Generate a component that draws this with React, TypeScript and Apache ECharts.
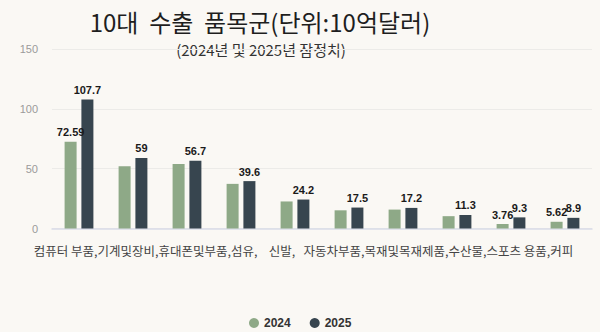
import React, { useEffect, useRef } from 'react';
import * as echarts from 'echarts';

const categories = ['컴퓨터 부품', '기계및장비', '휴대폰및부품', '섬유', '신발', '자동차부품', '목재및목재제품', '수산물', '스포츠 용품', '커피'];
const seriesNames = ['2024', '2025'];
const values2024 = [72.59, 52, 54, 37.3, 22.6, 15.2, 15.8, 10.3, 3.76, 5.62];
const values2025 = [107.7, 59, 56.7, 39.6, 24.2, 17.5, 17.2, 11.3, 9.3, 8.9];
const labeled2024 = [true, false, false, false, false, false, false, false, true, true];
const yMin = 0;
const yMax = 150;
const yInterval = 50;
const categoryLine = '컴퓨터 부품,기계및장비,휴대폰및부품,섬유,    신발,   자동차부품,목재및목재제품,수산물,스포츠 용품,커피';
const titleText = '10대  수출  품목군(단위:10억달러)';
const subtitleText = '(2024년 및 2025년 잠정치)';

const GREEN = '#8ea987';
const DARK = '#37454f';
const KR = '"Noto Sans CJK KR", "Noto Sans", sans-serif';
const NUM = '"Liberation Sans", Arial, sans-serif';

export default function App() {
  const ref = useRef<HTMLDivElement>(null);
  useEffect(() => {
    if (!ref.current) return;
    const chart = echarts.init(ref.current, undefined, { renderer: 'svg' });
    const labelStyle = {
      show: true,
      position: 'top',
      distance: 4,
      color: '#1a1a1a',
      fontFamily: NUM,
      fontWeight: 'bold',
      fontSize: 11,
    };
    chart.setOption({
      animation: false,
      backgroundColor: '#faf8f4',
      grid: { left: 52, right: 8, top: 49, bottom: 103.5, containLabel: false },
      legend: {
        data: seriesNames,
        left: 249,
        top: 317,
        padding: 0,
        icon: 'circle',
        itemWidth: 10,
        itemHeight: 10,
        itemGap: 19,
        textStyle: { color: '#333', fontSize: 12, lineHeight: 12, fontWeight: 'bold', fontFamily: NUM },
      },
      xAxis: {
        type: 'category',
        data: categories,
        axisLine: { lineStyle: { color: '#d9dce8', width: 1.5 } },
        axisTick: { show: false },
        axisLabel: { show: false },
      },
      yAxis: {
        type: 'value',
        min: yMin,
        max: yMax,
        interval: yInterval,
        axisLine: { show: false },
        axisTick: { show: false },
        axisLabel: { color: '#9a9a9a', fontSize: 11, fontFamily: NUM, margin: 14 },
        splitLine: { lineStyle: { color: '#ecebe8', width: 1 } },
      },
      series: [
        {
          name: seriesNames[0],
          type: 'bar',
          barWidth: 12,
          barGap: '40%',
          itemStyle: { color: GREEN },
          data: values2024.map((v, i) => ({
            value: v,
            label: { ...labelStyle, show: labeled2024[i] },
          })),
        },
        {
          name: seriesNames[1],
          type: 'bar',
          barWidth: 12,
          itemStyle: { color: DARK },
          label: labelStyle,
          data: values2025,
        },
      ],
      graphic: [
        {
          type: 'text',
          x: 260,
          y: 21,
          style: {
            text: titleText,
            fill: '#1e1e1e',
            font: `24px ${KR}`,
            textAlign: 'center',
            textVerticalAlign: 'middle',
          },
        },
        {
          type: 'text',
          x: 261,
          y: 49,
          style: {
            text: subtitleText,
            fill: '#333',
            font: `15px ${KR}`,
            textAlign: 'center',
            textVerticalAlign: 'middle',
          },
        },
        {
          type: 'text',
          x: 303.5,
          y: 250,
          style: {
            text: categoryLine,
            fill: '#444',
            font: `12.5px ${KR}`,
            textAlign: 'center',
            textVerticalAlign: 'middle',
          },
        },
      ],
    });
    return () => chart.dispose();
  }, []);
  return <div ref={ref} style={{ position: 'fixed', left: 0, top: 0, width: 600, height: 332 }} />;
}
